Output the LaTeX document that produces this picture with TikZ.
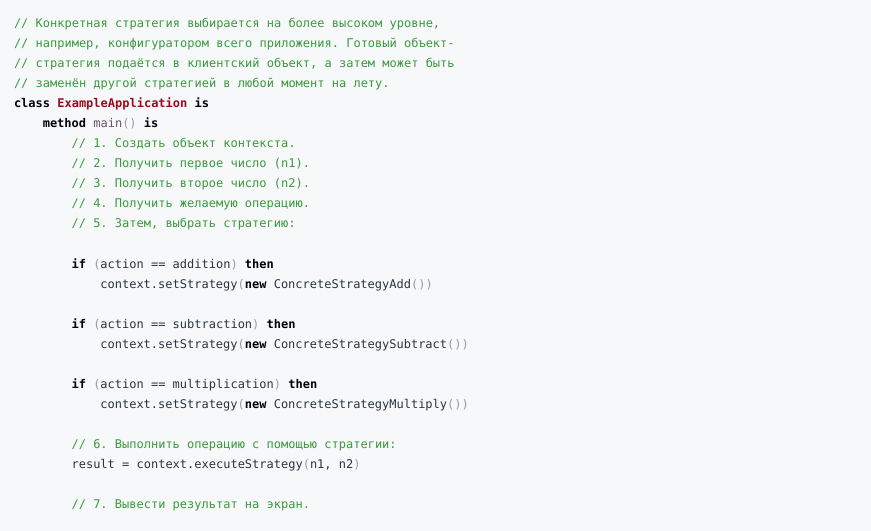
\documentclass[tikz,border=0pt]{standalone}
\usepackage{fontspec}
\setmonofont{DejaVu Sans Mono}
\definecolor{bgc}{HTML}{F6F8F9}
\definecolor{txt}{HTML}{2B3440}
\definecolor{cmt}{HTML}{3C9A3E}
\definecolor{cls}{HTML}{990B1E}
\definecolor{fnc}{HTML}{6E4E6E}
\definecolor{par}{HTML}{9A9A9A}
\newcommand{\kwd}[1]{\textbf{\color{black}#1}}
\newcommand{\clsn}[1]{\textbf{\color{cls}#1}}
\newcommand{\fnn}[1]{{\color{fnc}#1}}
\newcommand{\prn}[1]{{\color{par}#1}}
\tikzset{
  codeline/.style={anchor=base west, inner sep=0pt, outer sep=0pt, font=\ttfamily\fontsize{9}{11}\selectfont, text=txt},
  cmtline/.style={codeline, text=cmt}
}
\begin{document}
\begin{tikzpicture}[x=0.75pt,y=-0.75pt]
\fill[bgc] (0,0) rectangle (871,531);
\useasboundingbox (0,0) rectangle (871,531);
\def\cw{7.2}
\node[cmtline] (l1) at (14,28) {// Конкретная стратегия выбирается на более высоком уровне,};
\node[cmtline] (l2) at (14,48) {// например, конфигуратором всего приложения. Готовый объект-};
\node[cmtline] (l3) at (14,68) {// стратегия подаётся в клиентский объект, а затем может быть};
\node[cmtline] (l4) at (14,88) {// заменён другой стратегией в любой момент на лету.};
\node[codeline] (l5) at (14,108) {\kwd{class} \clsn{ExampleApplication} \kwd{is}};
\node[codeline] (l6) at (42.8,128) {\kwd{method} \fnn{main}\prn{()} \kwd{is}};
\node[cmtline] (l7) at (71.6,148) {// 1. Создать объект контекста.};
\node[cmtline] (l8) at (71.6,168) {// 2. Получить первое число (n1).};
\node[cmtline] (l9) at (71.6,188) {// 3. Получить второе число (n2).};
\node[cmtline] (l10) at (71.6,208) {// 4. Получить желаемую операцию.};
\node[cmtline] (l11) at (71.6,228) {// 5. Затем, выбрать стратегию:};
\node[codeline] (l13) at (71.6,268) {\kwd{if} \prn{(}action == addition\prn{)} \kwd{then}};
\node[codeline] (l14) at (100.4,288) {context.setStrategy\prn{(}\kwd{new} ConcreteStrategyAdd\prn{())}};
\node[codeline] (l16) at (71.6,328) {\kwd{if} \prn{(}action == subtraction\prn{)} \kwd{then}};
\node[codeline] (l17) at (100.4,348) {context.setStrategy\prn{(}\kwd{new} ConcreteStrategySubtract\prn{())}};
\node[codeline] (l19) at (71.6,388) {\kwd{if} \prn{(}action == multiplication\prn{)} \kwd{then}};
\node[codeline] (l20) at (100.4,408) {context.setStrategy\prn{(}\kwd{new} ConcreteStrategyMultiply\prn{())}};
\node[cmtline] (l22) at (71.6,448) {// 6. Выполнить операцию с помощью стратегии:};
\node[codeline] (l23) at (71.6,468) {result = context.executeStrategy\prn{(}n1, n2\prn{)}};
\node[cmtline] (l25) at (71.6,508) {// 7. Вывести результат на экран.};
\end{tikzpicture}
\end{document}
